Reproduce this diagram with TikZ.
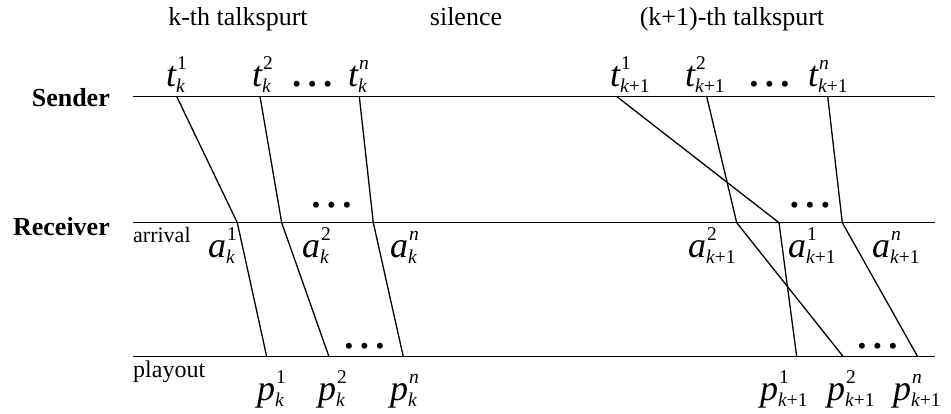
\documentclass[tikz,border=0pt]{standalone}
\usepackage{fontspec}
\setmainfont{Liberation Serif}
\newcommand\lbl[3]{\fontsize{36}{36}\selectfont\itshape #1\rlap{\kern1pt\raisebox{17pt}{\fontsize{19.5}{19.5}\selectfont\upshape #2}}\raisebox{-6pt}{\fontsize{19.5}{19.5}\selectfont #3}}
\newcommand\threedots{{\fontsize{25}{25}\selectfont\textbullet\kern6.8pt\textbullet\kern6.8pt\textbullet}}
\tikzset{
  axis/.style={line width=1.5pt},
  conn/.style={line width=1.3pt, line join=miter},
  lab/.style={anchor=base west, inner sep=0pt},
  head/.style={anchor=base, inner sep=0pt, font=\fontsize{26}{26}\selectfont},
  side/.style={anchor=base east, inner sep=0pt, font=\fontsize{26}{26}\selectfont\bfseries},
  small/.style={anchor=base west, inner sep=0pt},
  dts/.style={anchor=center, inner sep=0pt}
}
\begin{document}
\begin{tikzpicture}[x=1pt,y=-1pt]
\useasboundingbox (0,0) rectangle (951,414);
% axes
\coordinate (sL) at (133,96.5);  \coordinate (sR) at (935,96.5);
\coordinate (rL) at (133,222.7); \coordinate (rR) at (935,222.7);
\coordinate (pL) at (133,356.7); \coordinate (pR) at (935,356.7);
\draw[axis] (sL) -- (sR);
\draw[axis] (rL) -- (rR);
\draw[axis] (pL) -- (pR);
% sender points
\coordinate (tk1) at (176.7,96.5); \coordinate (tk2) at (260,96.5); \coordinate (tkn) at (359.3,96.5);
\coordinate (tK1) at (616.7,96.5); \coordinate (tK2) at (706.7,96.5); \coordinate (tKn) at (827.7,96.5);
% arrival points
\coordinate (ak1) at (237.3,222.7); \coordinate (ak2) at (281.7,222.7); \coordinate (akn) at (373.3,222.7);
\coordinate (aK2) at (736.7,222.7); \coordinate (aK1) at (779,222.7); \coordinate (aKn) at (842.3,222.7);
% playout points
\coordinate (pk1) at (266.7,356.7); \coordinate (pk2) at (329,356.7); \coordinate (pkn) at (403.3,356.7);
\coordinate (pK1) at (796.7,356.7); \coordinate (pK2) at (843.3,356.7); \coordinate (pKn) at (917.7,356.7);
% connectors
\draw[conn] (tk1) -- (ak1) -- (pk1);
\draw[conn] (tk2) -- (ak2) -- (pk2);
\draw[conn] (tkn) -- (akn) -- (pkn);
\draw[conn] (tK1) -- (aK1) -- (pK1);
\draw[conn] (tK2) -- (aK2) -- (pK2);
\draw[conn] (tKn) -- (aKn) -- (pKn);
% headings
\node[head] (h1) at (238,26) {k-th talkspurt};
\node[head] (h2) at (466,26) {silence};
\node[head] (h3) at (732,26) {(k+1)-th talkspurt};
\node[side] (snd) at (110,107) {Sender};
\node[side] (rcv) at (110,236) {Receiver};
\node[small, font=\fontsize{22}{22}\selectfont] (arr) at (133,243) {arrival};
\node[small, font=\fontsize{24}{24}\selectfont] (ply) at (133,377) {playout};
% sender labels
\node[lab] (Ltk1) at (166,87) {\lbl{t}{1}{k}};
\node[lab] (Ltk2) at (252,87) {\lbl{t}{2}{k}};
\node[lab] (Ltkn) at (348,87) {\lbl{t}{\itshape n}{k}};
\node[lab] (LtK1) at (610,87) {\lbl{t}{1}{k\upshape +1}};
\node[lab] (LtK2) at (685,87) {\lbl{t}{2}{k\upshape +1}};
\node[lab] (LtKn) at (808,87) {\lbl{t}{\itshape n}{k\upshape +1}};
% arrival labels
\node[lab] (Lak1) at (208,258) {\lbl{a}{1}{k}};
\node[lab] (Lak2) at (302,258) {\lbl{a}{2}{k}};
\node[lab] (Lakn) at (390,258) {\lbl{a}{\itshape n}{k}};
\node[lab] (LaK2) at (688,258) {\lbl{a}{2}{k\upshape +1}};
\node[lab] (LaK1) at (788,258) {\lbl{a}{1}{k\upshape +1}};
\node[lab] (LaKn) at (872,258) {\lbl{a}{\itshape n}{k\upshape +1}};
% playout labels
\node[lab] (Lpk1) at (257,400) {\lbl{p}{1}{k}};
\node[lab] (Lpk2) at (318,400) {\lbl{p}{2}{k}};
\node[lab] (Lpkn) at (390,400) {\lbl{p}{\itshape n}{k}};
\node[lab] (LpK1) at (760,400) {\lbl{p}{1}{k\upshape +1}};
\node[lab] (LpK2) at (827,400) {\lbl{p}{2}{k\upshape +1}};
\node[lab] (LpKn) at (893,400) {\lbl{p}{\itshape n}{k\upshape +1}};
% dots
\node[dts] (d1) at (312.3,86.7) {\threedots};
\node[dts] (d2) at (769.5,86.7) {\threedots};
\node[dts] (d3) at (331.5,208) {\threedots};
\node[dts] (d4) at (810,208) {\threedots};
\node[dts] (d5) at (364.5,349) {\threedots};
\node[dts] (d6) at (877.5,349) {\threedots};
\end{tikzpicture}
\end{document}
